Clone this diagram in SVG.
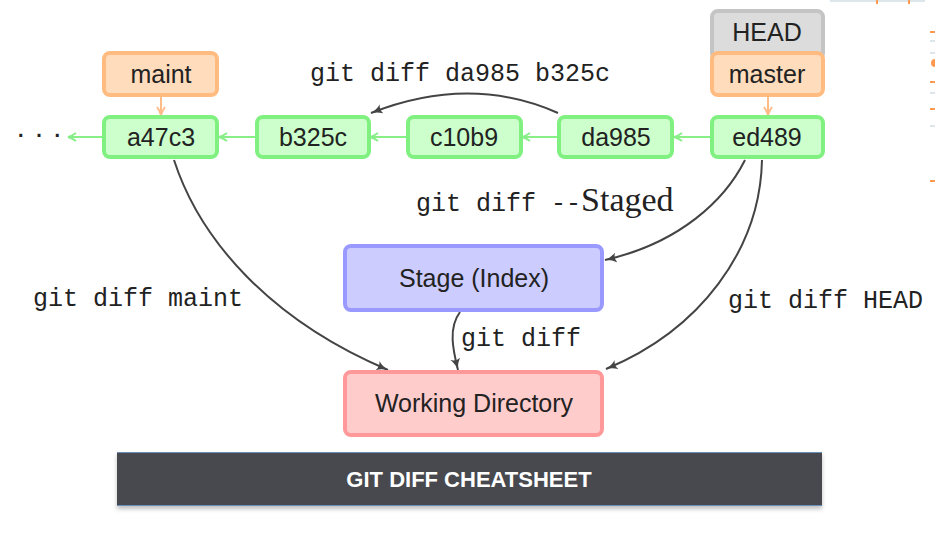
<svg xmlns="http://www.w3.org/2000/svg" width="935" height="534" viewBox="0 0 935 534">
<defs>
<style>
.box{stroke-width:4}
.commit{fill:#ccffcc;stroke:#80f080}
.branch{fill:#ffdcbc;stroke:#ffbb80}
.head{fill:#dcdcdc;stroke:#c4c4c4}
.stage{fill:#ccccff;stroke:#9999ff}
.wd{fill:#ffcccc;stroke:#ff9999}
.lbl{font-family:"Liberation Sans",Arial,sans-serif;font-size:25px;fill:#222;text-anchor:middle}
.mono{font-family:"Liberation Mono","Courier New",monospace;font-size:25px;fill:#222}
.serif{font-family:"Liberation Serif","Times New Roman",serif;font-size:34px;fill:#222}
.gline{stroke:#88ee88;stroke-width:2;fill:none}
.oline{stroke:#ffbb88;stroke-width:2;fill:none}
.dline{stroke:#444;stroke-width:2;fill:none}
</style>
<marker id="ag" viewBox="0 0 12 10" refX="11.5" refY="5" markerWidth="12" markerHeight="10" orient="auto" markerUnits="userSpaceOnUse">
<path d="M0,0 Q5,4 12,5 Q5,6 0,10 Q3,5 0,0z" fill="#444"/>
</marker>
<marker id="agr" viewBox="0 0 10 10" refX="9" refY="5" markerWidth="10" markerHeight="10" orient="auto" markerUnits="userSpaceOnUse">
<path d="M1,1 Q5,4 9,5 Q5,6 1,9" fill="none" stroke="#88ee88" stroke-width="2"/>
</marker>
<marker id="aor" viewBox="0 0 10 10" refX="9" refY="5" markerWidth="10" markerHeight="10" orient="auto" markerUnits="userSpaceOnUse">
<path d="M1,1 Q5,4 9,5 Q5,6 1,9" fill="none" stroke="#ffbb88" stroke-width="2"/>
</marker>
<filter id="sh" x="-5%" y="-20%" width="110%" height="150%">
<feDropShadow dx="0" dy="3" stdDeviation="2" flood-color="#000" flood-opacity="0.25"/>
</filter>
</defs>

<rect width="935" height="534" fill="#ffffff"/>

<g id="edge-fragments">
<line x1="830" y1="1" x2="925" y2="1" stroke="#dde6ea" stroke-width="2"/>
<line x1="877" y1="0" x2="877" y2="4" stroke="#ff9a50" stroke-width="2"/>
<line x1="909" y1="0" x2="909" y2="4" stroke="#ff9a50" stroke-width="2"/>
<line x1="930" y1="32" x2="935" y2="32" stroke="#ff9a50" stroke-width="2"/>
<line x1="930" y1="41" x2="935" y2="41" stroke="#dde6ea" stroke-width="2"/>
<line x1="930" y1="53" x2="935" y2="53" stroke="#dde6ea" stroke-width="2"/>
<circle cx="935" cy="63" r="4" fill="#ff9a50"/>
<line x1="930" y1="82" x2="935" y2="82" stroke="#ff9a50" stroke-width="2"/>
<line x1="930" y1="93" x2="935" y2="93" stroke="#dde6ea" stroke-width="2"/>
<line x1="930" y1="109" x2="935" y2="109" stroke="#ff9a50" stroke-width="2"/>
<line x1="930" y1="126" x2="935" y2="126" stroke="#dde6ea" stroke-width="2"/>
<line x1="930" y1="181" x2="935" y2="181" stroke="#ff9a50" stroke-width="2"/>
</g>

<g id="connectors">
<line class="gline" x1="711" y1="137" x2="674" y2="137" marker-end="url(#agr)"/>
<line class="gline" x1="559" y1="137" x2="522" y2="137" marker-end="url(#agr)"/>
<line class="gline" x1="408" y1="137" x2="370" y2="137" marker-end="url(#agr)"/>
<line class="gline" x1="256" y1="137" x2="219" y2="137" marker-end="url(#agr)"/>
<line class="gline" x1="104" y1="137" x2="68" y2="137" marker-end="url(#agr)"/>
<line class="oline" x1="161" y1="97" x2="161" y2="115" marker-end="url(#aor)"/>
<line class="oline" x1="768" y1="97" x2="768" y2="115" marker-end="url(#aor)"/>
<path class="dline" d="M558,113 Q470,74 371,113" marker-end="url(#ag)"/>
<path class="dline" d="M745,160 C725,200 680,243 605,260" marker-end="url(#ag)"/>
<path class="dline" d="M762,160 C760,250 700,330 606,369" marker-end="url(#ag)"/>
<path class="dline" d="M174,160 C200,240 270,320 388,370" marker-end="url(#ag)"/>
<path class="dline" d="M460,312 C448,328 453,350 458,370" marker-end="url(#ag)"/>
</g>

<g id="labels">
<text class="mono" x="310" y="81">git diff da985 b325c</text>
<text x="416" y="211"><tspan class="mono">git diff --</tspan><tspan class="serif">Staged</tspan></text>
<text class="mono" x="33" y="306">git diff maint</text>
<text class="mono" x="728" y="308">git diff HEAD</text>
<text class="mono" x="461" y="346">git diff</text>
<text x="39" y="143" font-family="Liberation Sans,Arial,sans-serif" font-size="30" fill="#222" text-anchor="middle">· · ·</text>
</g>

<g id="node-maint"><rect class="box branch" x="104" y="53" width="113" height="42" rx="6"/><text class="lbl" x="161" y="83">maint</text></g>
<g id="node-HEAD"><rect class="box head" x="712" y="11" width="111" height="48" rx="6"/><text class="lbl" x="767" y="41">HEAD</text></g>
<g id="node-master"><rect class="box branch" x="712" y="53" width="111" height="42" rx="6"/><text class="lbl" x="767" y="83">master</text></g>
<g id="node-a47c3"><rect class="box commit" x="104" y="117" width="113" height="40" rx="6"/><text class="lbl" x="161" y="146">a47c3</text></g>
<g id="node-b325c"><rect class="box commit" x="257" y="117" width="112" height="40" rx="6"/><text class="lbl" x="313" y="146">b325c</text></g>
<g id="node-c10b9"><rect class="box commit" x="408" y="117" width="113" height="40" rx="6"/><text class="lbl" x="464" y="146">c10b9</text></g>
<g id="node-da985"><rect class="box commit" x="559" y="117" width="113" height="40" rx="6"/><text class="lbl" x="616" y="146">da985</text></g>
<g id="node-ed489"><rect class="box commit" x="712" y="117" width="111" height="40" rx="6"/><text class="lbl" x="767" y="146">ed489</text></g>
<g id="node-stage"><rect class="box stage" x="345" y="246" width="257" height="64" rx="6"/><text class="lbl" x="474" y="287">Stage (Index)</text></g>
<g id="node-wd"><rect class="box wd" x="345" y="372" width="257" height="63" rx="6"/><text class="lbl" x="474" y="412">Working Directory</text></g>

<g id="title">
<rect x="117" y="452" width="705" height="54" fill="#464a50" filter="url(#sh)"/>
<line x1="117" y1="452.5" x2="822" y2="452.5" stroke="#6a8fb8" stroke-width="1"/>
<line x1="117" y1="505.5" x2="822" y2="505.5" stroke="#6a8fb8" stroke-width="1"/>
<text x="469" y="487" font-family="Liberation Sans,Arial,sans-serif" font-size="22" font-weight="bold" fill="#ffffff" text-anchor="middle">GIT DIFF CHEATSHEET</text>
</g>
</svg>
